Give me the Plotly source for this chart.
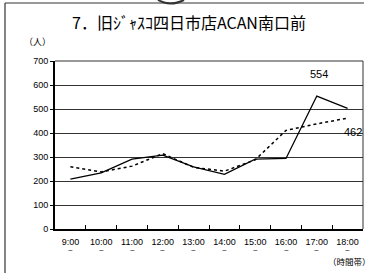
import plotly.graph_objects as go

categories = ["9:00", "10:00", "11:00", "12:00", "13:00", "14:00", "15:00", "16:00", "17:00", "18:00"]
tick_labels = categories
solid_values = [208, 234, 291, 308, 259, 228, 291, 294, 554, 503]
dotted_values = [259, 238, 262, 314, 257, 241, 288, 411, 438, 462]

W, H = 370, 273
L, R, T, B = 55, 7, 61, 44
pw, ph = W - L - R, H - T - B

def px(x):
    return (x - L) / pw

def py(y):
    return (H - B - y) / ph

font = "Liberation Sans, Arial, sans-serif"
cjk = "Noto Sans CJK JP, sans-serif"

fig = go.Figure()
fig.add_trace(go.Scatter(x=categories, y=dotted_values, mode="lines",
                         line=dict(color="black", width=1.5, dash="dot"), showlegend=False))
fig.add_trace(go.Scatter(x=categories, y=solid_values, mode="lines",
                         line=dict(color="black", width=1.3), showlegend=False))

annotations = [
    dict(text="7．旧ｼﾞｬｽｺ四日市店ACAN南口前", xref="paper", yref="paper",
         x=px(189), y=py(22), showarrow=False, xanchor="center", yanchor="middle",
         font=dict(size=16, family=cjk, color="black")),
    dict(text="（人）", xref="paper", yref="paper", x=px(37), y=py(41), showarrow=False,
         xanchor="center", yanchor="middle",
         font=dict(size=9, family=cjk, color="black")),
    dict(text="（時間帯）", xref="paper", yref="paper", x=px(349), y=py(261), showarrow=False,
         xanchor="center", yanchor="middle",
         font=dict(size=8.5, family=cjk, color="black")),
    dict(x=categories[8], y=solid_values[8], text=str(solid_values[8]), showarrow=False,
         xref="x", yref="y", yshift=22, xshift=2, yanchor="middle",
         font=dict(size=11, color="black", family=font)),
    dict(x=categories[9], y=dotted_values[9], text=str(dotted_values[9]), showarrow=False,
         xref="x", yref="y", yshift=-14, xshift=5, yanchor="middle",
         font=dict(size=11, color="black", family=font)),
]
for c in categories:
    annotations.append(dict(x=c, y=0, xref="x", yref="y", text="~", showarrow=False,
                            yshift=-21, yanchor="middle",
                            font=dict(size=8, color="black", family=font)))

shapes = [
    dict(type="line", xref="paper", yref="paper", x0=1, x1=1, y0=0, y1=1,
         line=dict(color="#333333", width=1)),
    dict(type="line", xref="paper", yref="paper", x0=0, x1=1, y0=1, y1=1,
         line=dict(color="#333333", width=1)),
    dict(type="line", xref="paper", yref="paper", x0=px(5), x1=px(364), y0=py(3), y1=py(3),
         line=dict(color="#333333", width=1)),
    dict(type="line", xref="paper", yref="paper", x0=px(5), x1=px(5), y0=py(3), y1=py(273),
         line=dict(color="#333333", width=1.2)),
    dict(type="path", xref="paper", yref="paper",
         path="M %f,%f Q %f,%f %f,%f" % (px(158), py(0), px(170), py(7), px(184), py(0)),
         line=dict(color="#333333", width=2)),
]

fig.update_layout(
    width=W, height=H,
    margin=dict(l=L, r=R, t=T, b=B, autoexpand=False),
    paper_bgcolor="white", plot_bgcolor="white",
    font=dict(family=font, color="black", size=9),
    xaxis=dict(type="category", tickvals=categories, ticktext=tick_labels, tickangle=0,
               tickson="boundaries", ticks="inside", ticklen=4, tickcolor="black",
               showline=True, linecolor="black", linewidth=2, mirror=False,
               showgrid=False, tickfont=dict(size=9, family=font), range=[-0.5, 9.5],
               automargin=False, ticklabelstandoff=3),
    yaxis=dict(range=[0, 700], dtick=100, ticks="outside", ticklen=3, tickcolor="black",
               showline=True, linecolor="black", linewidth=2,
               showgrid=True, gridcolor="#333333", gridwidth=1,
               tickfont=dict(size=9, family=font), zeroline=False, automargin=False),
    shapes=shapes,
    annotations=annotations,
)

fig.write_html("out.html", post_script="document.body.style.margin='0';",
               config={"displayModeBar": False})
